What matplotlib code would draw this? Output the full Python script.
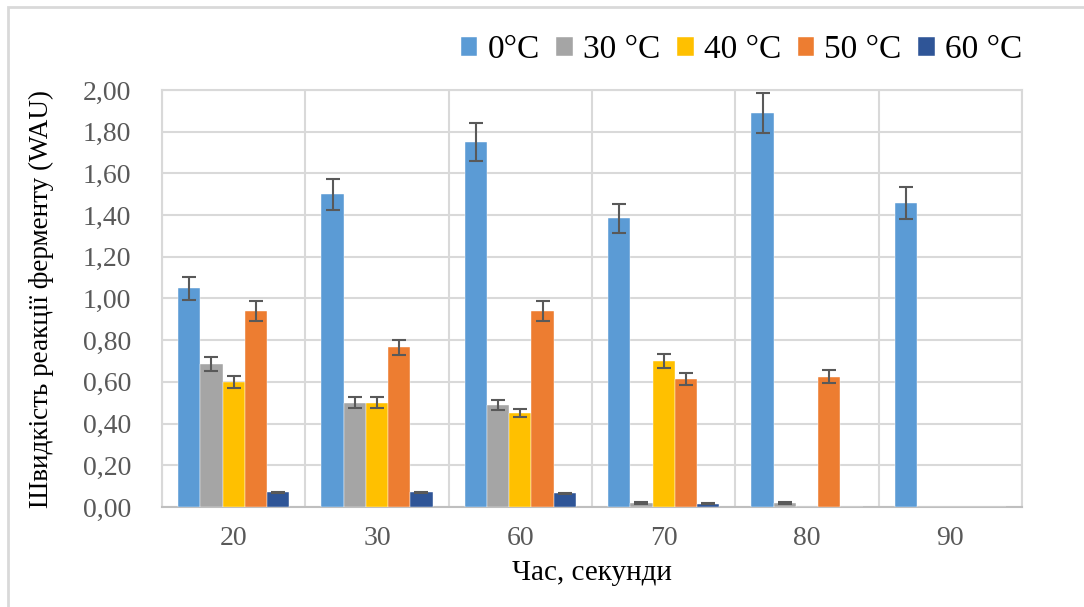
import matplotlib.pyplot as plt
import numpy as np
from matplotlib.patches import Rectangle
from matplotlib.ticker import FuncFormatter, MultipleLocator

plt.rcParams['font.family'] = ['Liberation Serif', 'DejaVu Serif']

times = ['20', '30', '60', '70', '80', '90']
series = ['0°C', '30 °C', '40 °C', '50 °C', '60 °C']
colors = ['#5B9BD5', '#A5A5A5', '#FFC000', '#ED7D31', '#2F5597']

# values
v0 = [1.05, 1.50, 1.75, 1.385, 1.89, 1.46]
v30 = [0.685, 0.50, 0.49, 0.02, 0.02, 0.0]
v40 = [0.60, 0.50, 0.45, 0.70, 0.0, 0.0]
v50 = [0.94, 0.765, 0.94, 0.615, 0.625, 0.0]
v60 = [0.07, 0.07, 0.065, 0.015, 0.0, 0.0]

e0 = [0.055, 0.075, 0.09, 0.07, 0.095, 0.077]
e30 = [0.035, 0.027, 0.025, 0.004, 0.004, 0.0]
e40 = [0.03, 0.027, 0.02, 0.035, 0.0, 0.0]
e50 = [0.047, 0.038, 0.047, 0.03, 0.03, 0.0]
e60 = [0.003, 0.003, 0.003, 0.002, 0.0, 0.0]

values = [v0, v30, v40, v50, v60]
errors = [e0, e30, e40, e50, e60]

fig = plt.figure(figsize=(10.84, 6.07), dpi=100)
ax = fig.add_axes([162/1084, 1 - 507/607, (1022 - 162)/1084, (507 - 90)/607])

# outer chart frame (cut off at right/bottom like the source)
fig.patches.append(Rectangle((8/1084, -0.1), 1.2, 1 - 7/607 + 0.1, transform=fig.transFigure,
                             fill=False, edgecolor='#D9D9D9', linewidth=2))

x = np.arange(len(times))
w = 0.155
for i, (vals, errs) in enumerate(zip(values, errors)):
    pos = x + (i - 2) * w
    vals = np.array(vals)
    errs = np.array(errs)
    ax.bar(pos, vals, width=w, color=colors[i], label=series[i], zorder=3,
           edgecolor='white', linewidth=0.3)
    m = vals > 0
    ax.errorbar(pos[m], vals[m], yerr=errs[m], fmt='none', ecolor='#595959',
                elinewidth=1.5, capsize=5, capthick=1.5, zorder=4)

ax.set_xlim(-0.5, 5.5)
ax.set_ylim(0, 2.0)
ax.yaxis.set_major_locator(MultipleLocator(0.2))
ax.yaxis.set_major_formatter(FuncFormatter(lambda v, p: f'{v:.2f}'.replace('.', ',')))
ax.set_xticks(x)
ax.set_xticklabels(times)
ax.set_xticks(np.arange(-0.5, 6.0, 1.0), minor=True)
ax.grid(axis='y', which='major', color='#D9D9D9', linewidth=1.5, zorder=0)
ax.grid(axis='x', which='minor', color='#D9D9D9', linewidth=1.5, zorder=0)
ax.tick_params(axis='both', which='both', length=0, labelsize=20, labelcolor='#595959')
ax.tick_params(axis='x', pad=14)
ax.tick_params(axis='y', pad=22)
for s in ax.spines.values():
    s.set_color('#D9D9D9')
    s.set_linewidth(1.5)
ax.spines['bottom'].set_color('#BFBFBF')

ax.set_xlabel('Час, секунди', fontsize=21, color='black')
ax.set_ylabel('Швидкість реакції ферменту (WAU)', fontsize=19.5, color='black')
ax.xaxis.set_label_coords(0.5, (507 - 560) / 417)
ax.yaxis.set_label_coords((54 - 162) / 860, 0.5)

ax.legend(ncol=5, loc='center right', bbox_to_anchor=(1.0, 1 + (90 - 50) / 417), frameon=False,
          fontsize=24, handlelength=0.5, handleheight=0.5, handletextpad=0.3,
          columnspacing=0.5, borderaxespad=0, borderpad=0)

fig.savefig('out.png', dpi=100)
